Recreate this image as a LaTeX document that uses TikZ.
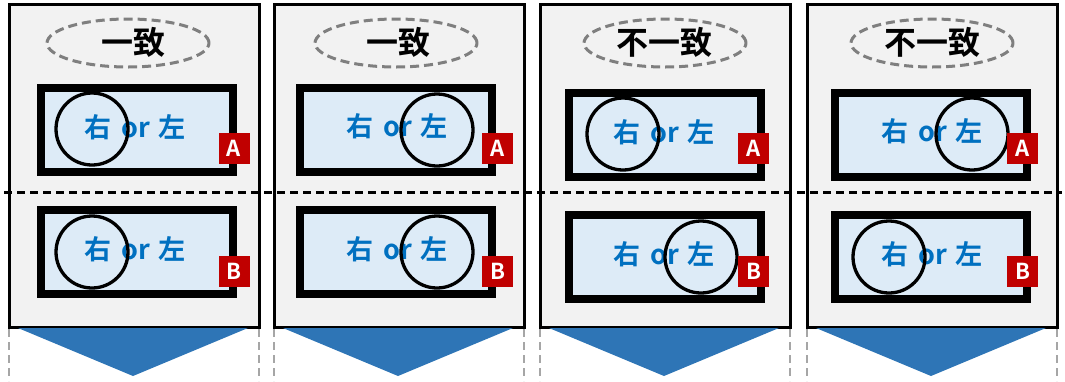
\documentclass[tikz,border=0pt]{standalone}
\usepackage{fontspec}
\newfontfamily\cjk{Noto Sans CJK JP}[BoldFont={* Bold}]
\usetikzlibrary{shapes.geometric}
\definecolor{panelfill}{HTML}{F2F2F2}
\definecolor{boxfill}{HTML}{DDEBF7}
\definecolor{txtblue}{HTML}{0070C0}
\definecolor{tagred}{HTML}{C00000}
\definecolor{chevblue}{HTML}{2E75B6}
\definecolor{ellgray}{HTML}{7F7F7F}
\definecolor{vgray}{HTML}{A6A6A6}
\newcommand{\choicetext}{右\hspace{10pt}or\hspace{9pt}左}
\tikzset{
  panel/.style={draw=black, line width=2.5pt, fill=panelfill},
  framebox/.style={draw=black, line width=8pt, fill=boxfill, minimum width=192pt, minimum height=84pt, inner sep=0pt},
  choice/.style={font=\cjk\bfseries\fontsize{27}{27}\selectfont, text=txtblue, inner sep=0pt},
  ring/.style={draw=black, line width=3.3pt, circle, minimum size=72pt, inner sep=0pt},
  tag/.style={fill=tagred, text=white, minimum size=31pt, inner sep=0pt, font=\cjk\bfseries\fontsize{22}{22}\selectfont},
  title/.style={font=\cjk\bfseries\fontsize{32}{32}\selectfont, inner sep=0pt},
  titlering/.style={draw=ellgray, line width=3pt, dash pattern=on 9pt off 5pt, ellipse, minimum width=162pt, minimum height=48pt, inner sep=0pt},
  chev/.style={fill=chevblue},
  vdash/.style={draw=vgray, line width=2.5pt, dash pattern=on 8pt off 5pt},
  hdash/.style={draw=black, line width=3pt, dash pattern=on 8pt off 5pt}
}
\begin{document}
\begin{tikzpicture}[x=1pt,y=-1pt]
\useasboundingbox (0,0) rectangle (1065,381);
% panels
\foreach \i/\l in {1/8,2/273,3/539,4/806}{
  \node[panel, anchor=north west, minimum width=250pt, minimum height=323pt, inner sep=0pt] (panel\i) at (\l,3) {};
  \draw[vdash] (\l+1,329) -- (\l+1,381);
  \draw[vdash] (\l+251,329) -- (\l+251,381);
  \fill[chev] (\l+10,328) -- (\l+240,328) -- (\l+125,376) -- cycle;
}
% horizontal dashed divider
\coordinate (hl) at (4,192);
\coordinate (hr) at (1062,192);
\draw[hdash] (hl) -- (hr);
% titles
\foreach \i/\cx/\tx/\t in {1/128/133/一致,2/396/398/一致,3/665/664/不一致,4/932/932/不一致}{
  \node[titlering] (ell\i) at (\cx,43) {};
  \node[title] (title\i) at (\tx,42) {\t};
}
% boxes
\foreach \i/\bx/\ty/\by/\tx/\tty/\tby/\cax/\cay/\cbx/\cby/\gx in {
  1/136.5/129.5/251.5/135/127/249/92/129/92/252/234,
  2/396/129.5/251.5/397/126/249/437/130/437/252/497.5,
  3/665/134.5/256.5/664/132/254/623/134/701/257/753.5,
  4/931/134.5/256.5/932/131/254/972/134/889/257/1022.5}{
  \node[framebox] (boxA\i) at (\bx,\ty) {};
  \node[framebox] (boxB\i) at (\bx,\by) {};
  \node[choice] (txtA\i) at (\tx,\tty) {\choicetext};
  \node[choice] (txtB\i) at (\tx,\tby) {\choicetext};
  \node[ring] (ringA\i) at (\cax,\cay) {};
  \node[ring] (ringB\i) at (\cbx,\cby) {};
  \node[tag] (tagA\i) at (\gx,148) {A};
  \node[tag] (tagB\i) at (\gx,271) {B};
}
\end{tikzpicture}
\end{document}
